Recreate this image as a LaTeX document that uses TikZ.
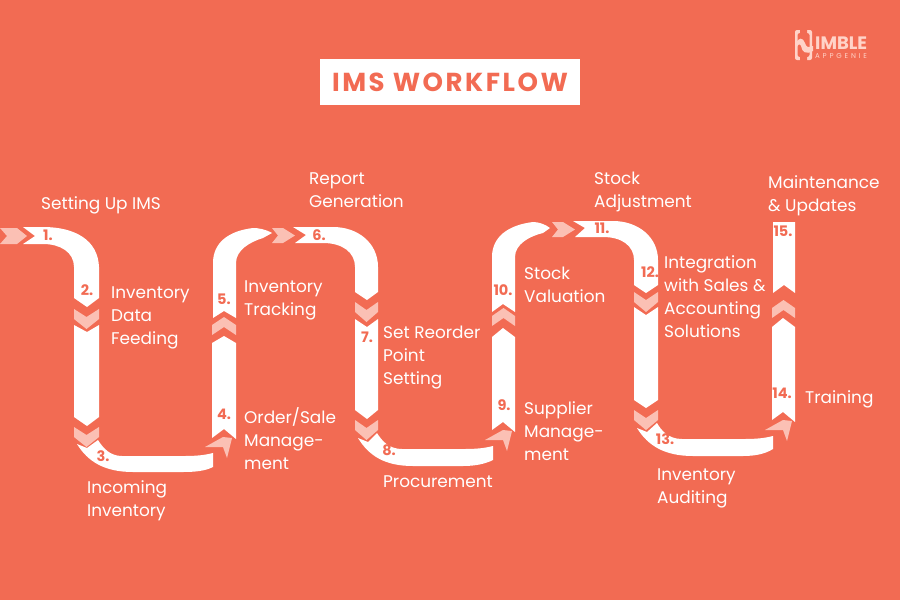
\documentclass[tikz,border=0pt]{standalone}
\usepackage{fontspec}
\setmainfont{Poppins}
\newfontfamily\titlefont[LetterSpace=9.8]{Poppins}
\newfontfamily\logofont[LetterSpace=40]{Poppins}
\definecolor{bgc}{HTML}{F26B53}
\definecolor{pinkc}{HTML}{FBC0B4}
\definecolor{logoc}{HTML}{FFD3C8}
\tikzset{
  band/.style={fill=white,draw=none},
  chev/.style={fill=pinkc,draw=none},
  lab/.style={anchor=west,align=left,text=white,inner sep=0pt,font=\fontsize{16.9}{23}\selectfont},
  num/.style={text=bgc,inner sep=0pt,font=\fontsize{14.5}{14.5}\selectfont\bfseries}
}
\newcommand{\chevdown}[3]{% left x, right x, top y
  \fill[chev] (#1,#3) -- ({(#1+#2)/2},#3+8) -- (#2,#3) -- (#2,#3+10) -- ({(#1+#2)/2},#3+20) -- (#1,#3+10) -- cycle;}
\newcommand{\chevup}[3]{% left x, right x, top y
  \fill[chev] (#1,#3+8) -- ({(#1+#2)/2},#3) -- (#2,#3+8) -- (#2,#3+18) -- ({(#1+#2)/2},#3+10) -- (#1,#3+18) -- cycle;}
\newcommand{\chevright}[3]{% left x, top y, bottom y
  \fill[chev] (#1,#2) -- (#1+11,#2) -- (#1+23,{(#2+#3)/2}) -- (#1+11,#3) -- (#1,#3) -- (#1+6,{(#2+#3)/2}) -- cycle;}
\newcommand{\chevturn}[2]{% pink arrow at end of a bottom bend
  \fill[chev] (#1,#2) -- (#1+18,#2-10) -- (#1+27,#2-9) -- (#1+22,#2+11) -- (#1+18,#2) -- cycle;}
\begin{document}
\begin{tikzpicture}[x=1pt,y=-1pt]
\useasboundingbox (0,0) rectangle (900,600);
\fill[bgc] (0,0) rectangle (900,600);
% title
\node[fill=white,minimum width=260pt,minimum height=46pt,inner sep=0pt,text=bgc,font=\fontsize{26}{26}\selectfont\bfseries\titlefont] (title) at (450,82) {IMS WORKFLOW};
% logo
\fill[logoc,even odd rule,rounded corners=2pt] (795,30) rectangle (812,60) (797.5,33) rectangle (809.5,57);
\fill[bgc] (800,28) rectangle (807,35) (800,55) rectangle (807,62);
\fill[logoc] (796,44) .. controls (798,37) and (803,37) .. (805,43) .. controls (806,47) and (808,48) .. (813,46) -- (813,51) .. controls (806,55) and (802,52) .. (801,46) .. controls (800,43) and (798,44) .. (796,49) -- cycle;
\node[anchor=west,inner sep=0pt,text=logoc,font=\fontsize{18}{18}\selectfont\bfseries] (logoa) at (815,43.5) {IMBLE};
\node[anchor=west,inner sep=0pt,text=logoc,font=\fontsize{7}{7}\selectfont\logofont] (logob) at (815,56.5) {APPGENIE};
% ---- band pieces
% start + 1-2
\fill[chev] (0,228) -- (17,228) -- (27,236) -- (17,244) -- (0,244) -- (7,236) -- cycle;
\fill[band] (23,227) -- (35,236) -- (23,244) -- (43,244) .. controls (60,244) and (74,252) .. (74,267) -- (74,298) -- (87,307) -- (99,298) -- (99,267) .. controls (98,240) and (75,227) .. (43,227) -- cycle;
\chevdown{74}{99}{309}
\fill[band] (74,325) -- (87,332) -- (99,325) -- (99,417) -- (87,426) -- (74,417) -- cycle;
\chevdown{74}{99}{427}
% 3
\fill[band] (77,444) -- (87,448) -- (98,440) .. controls (103,448) and (110,456) .. (122,456) -- (185,456) .. controls (197,456) and (205,455) .. (213,453) -- (213,467) .. controls (205,471) and (195,472) .. (183,472) -- (133,472) .. controls (105,472) and (88,462) .. (77,444) -- cycle;
\chevturn{205}{447}
% 4-5
\fill[band] (212,438) -- (224,429) -- (236,439) -- (236,343) -- (224,336) -- (212,343) -- cycle;
\chevup{212}{236}{317}
\fill[band] (213,318) -- (224,311) -- (236,318) -- (236,263) .. controls (236,250) and (250,242) .. (263,238) -- (272,233) .. controls (265,229) and (258,228) .. (253,228) .. controls (228,231) and (213,243) .. (213,263) -- cycle;
\chevright{272}{228}{243}
% 6-7
\fill[band] (293,227) -- (306,235) -- (295,243) -- (323,243) .. controls (342,243) and (355,252) .. (355,267) -- (355,292) -- (367,300) -- (378,292) -- (378,267) .. controls (378,243) and (358,227) .. (333,227) -- cycle;
\chevdown{355}{378}{302}
\fill[band] (355,319) -- (367,327) -- (378,319) -- (378,410) -- (367,419) -- (355,410) -- cycle;
\chevdown{355}{378}{420}
% 8
\fill[band] (358,438) -- (368,442) -- (377,433) .. controls (382,441) and (389,449) .. (402,449) -- (465,449) .. controls (477,449) and (485,448) .. (493,446) -- (493,460) .. controls (485,464) and (475,466) .. (463,466) -- (413,466) .. controls (385,466) and (369,456) .. (358,438) -- cycle;
\chevturn{485}{440}
% 9-10
\fill[band] (492,430) -- (503,422) -- (515,432) -- (515,337) -- (503,328) -- (492,337) -- cycle;
\chevup{492}{515}{308}
\fill[band] (492,312) -- (503,304) -- (515,312) -- (515,257) .. controls (515,244) and (530,236) .. (543,233) -- (550,228) .. controls (545,224) and (538,222) .. (533,222) .. controls (508,225) and (492,237) .. (492,257) -- cycle;
\chevright{552}{222}{237}
% 11-12
\fill[band] (573,221) -- (585,228) -- (575,237) -- (603,237) .. controls (622,237) and (634,246) .. (634,260) -- (634,285) -- (646,293) -- (658,285) -- (658,260) .. controls (658,237) and (638,221) .. (613,221) -- cycle;
\chevdown{634}{658}{292}
\fill[band] (634,307) -- (646,315) -- (658,307) -- (658,400) -- (646,408) -- (634,400) -- cycle;
\chevdown{634}{658}{410}
% 13
\fill[band] (637,428) -- (647,432) -- (657,423) .. controls (661,430) and (668,439) .. (682,439) -- (745,439) .. controls (757,439) and (765,438) .. (773,436) -- (773,449) .. controls (765,454) and (755,456) .. (743,456) -- (693,456) .. controls (665,456) and (648,446) .. (637,428) -- cycle;
\chevturn{765}{430}
% 14-15
\fill[band] (772,420) -- (783,412) -- (795,422) -- (795,327) -- (783,318) -- (772,327) -- cycle;
\chevup{772}{795}{300}
\fill[band] (773,222) -- (795,222) -- (795,293) -- (784,285) -- (773,293) -- cycle;
% numbers
\node[num] (n1) at (48,235) {1.};
\node[num] (n2) at (87,290) {2.};
\node[num] (n3) at (103,456) {3.};
\node[num] (n4) at (224,414) {4.};
\node[num] (n5) at (224,299) {5.};
\node[num] (n6) at (319,235) {6.};
\node[num] (n7) at (367,337) {7.};
\node[num] (n8) at (389,450) {8.};
\node[num] (n9) at (504,405) {9.};
\node[num] (n10) at (503,290) {10.};
\node[num] (n11) at (602,228) {11.};
\node[num] (n12) at (650,272) {12.};
\node[num] (n13) at (665,439) {13.};
\node[num] (n14) at (782,393) {14.};
\node[num] (n15) at (783,231) {15.};
% labels
\node[lab] (l1) at (41,205) {Setting Up IMS};
\node[lab] (l2) at (111,317.5) {Inventory\\Data\\Feeding};
\node[lab] (l3) at (87,501) {Incoming\\Inventory};
\node[lab] (l4) at (244,438.5) {Order/Sale\\Manage-\\ment};
\node[lab] (l5) at (244,300) {Inventory\\Tracking};
\node[lab] (l6) at (309,190.5) {Report\\Generation};
\node[lab] (l7) at (383,358) {Set Reorder\\Point\\Setting};
\node[lab] (l8) at (383,482) {Procurement};
\node[lab] (l9) at (524,431) {Supplier\\Manage-\\ment};
\node[lab] (l10) at (524,285) {Stock\\Valuation};
\node[lab] (l11) at (594,192) {Stock\\Adjustment};
\node[lab] (l12) at (664,297) {Integration\\with Sales \&\\Accounting\\Solutions};
\node[lab] (l13) at (657,488) {Inventory\\Auditing};
\node[lab] (l14) at (805,399) {Training};
\node[lab] (l15) at (768,196) {Maintenance\\\& Updates};
\end{tikzpicture}
\end{document}
